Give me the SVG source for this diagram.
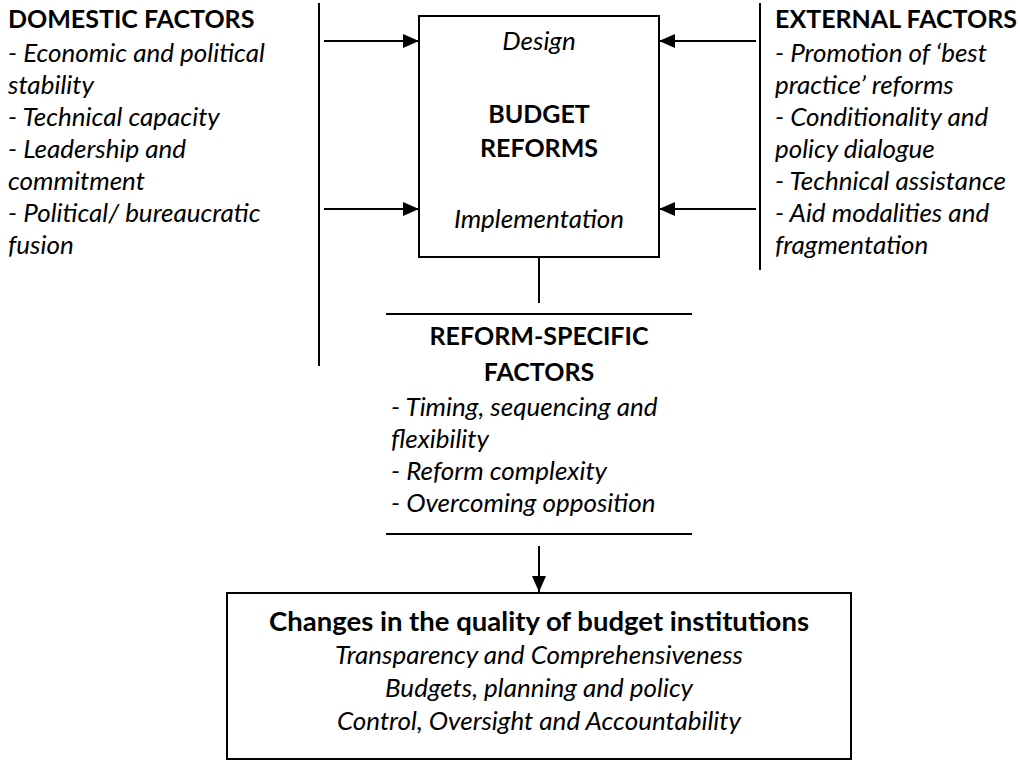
<svg xmlns="http://www.w3.org/2000/svg" width="1020" height="762" viewBox="0 0 1020 762">
<style>
text{font-family:Lato,"Open Sans","Liberation Sans",sans-serif;font-size:25px;fill:#000}
.b{font-weight:bold}
.i{font-style:italic;font-size:26px}
.c{text-anchor:middle}
.big{font-size:27.5px}
.ln{stroke:#000;stroke-width:2;fill:none}
.box{stroke:#000;stroke-width:2;fill:#fff}
</style>
<defs>
<marker id="ah" markerWidth="16" markerHeight="14" refX="16" refY="7" orient="auto" markerUnits="userSpaceOnUse">
<path d="M0,0 L16,7 L0,14 Z" fill="#000"/>
</marker>
</defs>
<g id="domestic">
<text x="8" y="28" class="b">DOMESTIC FACTORS</text>
<text x="8" y="62" class="i">- Economic and political</text>
<text x="8" y="94" class="i">stability</text>
<text x="8" y="126" class="i">- Technical capacity</text>
<text x="8" y="158" class="i">- Leadership and</text>
<text x="8" y="190" class="i">commitment</text>
<text x="8" y="222" class="i">- Political/ bureaucratic</text>
<text x="8" y="254" class="i">fusion</text>
</g>
<g id="external">
<text x="775" y="28" class="b">EXTERNAL FACTORS</text>
<text x="775" y="62" class="i">- Promotion of ‘best</text>
<text x="775" y="94" class="i">practice’ reforms</text>
<text x="775" y="126" class="i">- Conditionality and</text>
<text x="775" y="158" class="i">policy dialogue</text>
<text x="775" y="190" class="i">- Technical assistance</text>
<text x="775" y="222" class="i">- Aid modalities and</text>
<text x="775" y="254" class="i">fragmentation</text>
</g>
<g id="budget-reforms">
<rect x="419" y="16" width="240" height="241" class="box"/>
<text x="539" y="50" class="i c">Design</text>
<text x="539" y="123" class="b c">BUDGET</text>
<text x="539" y="157" class="b c">REFORMS</text>
<text x="539" y="228" class="i c">Implementation</text>
</g>
<g id="reform-specific">
<text x="539" y="345" class="b c">REFORM-SPECIFIC</text>
<text x="539" y="381" class="b c">FACTORS</text>
<text x="391" y="416" class="i">- Timing, sequencing and</text>
<text x="391" y="448" class="i">flexibility</text>
<text x="391" y="480" class="i">- Reform complexity</text>
<text x="391" y="512" class="i">- Overcoming opposition</text>
</g>
<g id="outcomes">
<rect x="227" y="593" width="624" height="166" class="box"/>
<text x="539" y="631" class="b c big" textLength="540" lengthAdjust="spacing">Changes in the quality of budget institutions</text>
<text x="539" y="664" class="i c">Transparency and Comprehensiveness</text>
<text x="539" y="697" class="i c">Budgets, planning and policy</text>
<text x="539" y="730" class="i c">Control, Oversight and Accountability</text>
</g>
<g id="connectors">
<line x1="319" y1="3" x2="319" y2="366" class="ln"/>
<line x1="760" y1="3" x2="760" y2="270" class="ln"/>
<line x1="324" y1="41" x2="419" y2="41" class="ln" marker-end="url(#ah)"/>
<line x1="324" y1="209" x2="419" y2="209" class="ln" marker-end="url(#ah)"/>
<line x1="756" y1="41" x2="659" y2="41" class="ln" marker-end="url(#ah)"/>
<line x1="756" y1="209" x2="659" y2="209" class="ln" marker-end="url(#ah)"/>
<line x1="539" y1="257" x2="539" y2="303" class="ln"/>
<line x1="386" y1="314" x2="692" y2="314" class="ln"/>
<line x1="386" y1="534" x2="692" y2="534" class="ln"/>
<line x1="539" y1="546" x2="539" y2="592" class="ln" marker-end="url(#ah)"/>
</g>
</svg>
